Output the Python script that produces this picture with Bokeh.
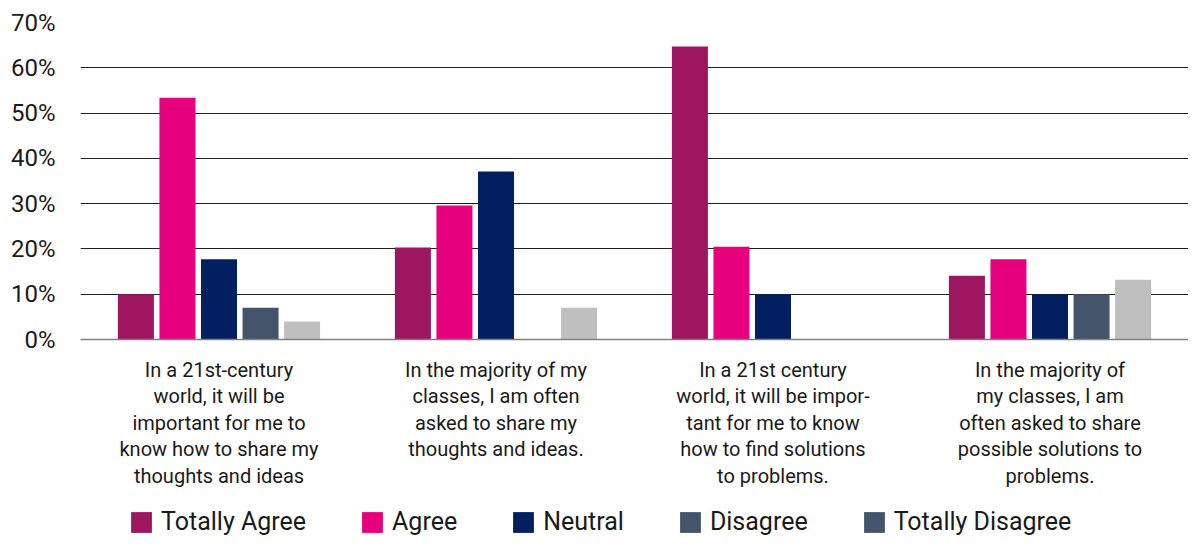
from bokeh.plotting import figure
from bokeh.layouts import column
from bokeh.models import (ColumnDataSource, FactorRange, Range1d, Legend, LegendItem,
                          PrintfTickFormatter, FixedTicker)
from bokeh.transform import dodge
from bokeh.embed import file_html
from bokeh.resources import INLINE

# ---------------- data ----------------
categories = [
    "In a 21st-century\nworld, it will be\nimportant for me to\nknow how to share my\nthoughts and ideas",
    "In the majority of my\nclasses, I am often\nasked to share my\nthoughts and ideas.",
    "In a 21st century\nworld, it will be impor-\ntant for me to know\nhow to find solutions\nto problems.",
    "In the majority of\nmy classes, I am\noften asked to share\npossible solutions to\nproblems.",
]
series_names = ["Totally Agree", "Agree", "Neutral", "Disagree", "Totally Disagree"]
totally_agree = [10.0, 20.3, 64.7, 14.1]
agree = [53.4, 29.6, 20.5, 17.7]
neutral = [17.7, 37.1, 10.0, 10.0]
disagree = [7.0, 0.0, 0.0, 10.0]
totally_disagree = [4.0, 7.0, 0.0, 13.2]
y_ticks = [0, 10, 20, 30, 40, 50, 60, 70]

# ---------------- styles ----------------
bar_colors = ["#9E1560", "#E6007E", "#022060", "#44546A", "#BFBFBF"]
legend_colors = ["#9E1560", "#E6007E", "#022060", "#44546A", "#44546A"]
FONT = "Roboto"
TEXT = "#1a1a1a"

source = ColumnDataSource(dict(
    cat=categories,
    ta=totally_agree, ag=agree, ne=neutral, di=disagree, td=totally_disagree,
))
cols = ["ta", "ag", "ne", "di", "td"]
offsets = [-0.30, -0.15, 0.0, 0.15, 0.30]

p = figure(width=1188, height=500, output_backend="svg", toolbar_location=None,
           x_range=FactorRange(*categories, range_padding=0),
           y_range=Range1d(0, 70))
p.min_border_left = 80
p.min_border_right = 0
p.min_border_top = 22
p.min_border_bottom = 161
p.outline_line_color = None
p.background_fill_color = "white"
p.border_fill_color = "white"

for col, off, color in zip(cols, offsets, bar_colors):
    p.vbar(x=dodge("cat", off, range=p.x_range), top=col, width=0.13,
           source=source, fill_color=color, line_color=None)

# axes
p.xgrid.grid_line_color = None
p.ygrid.grid_line_color = "#1f1f1f"
p.ygrid.grid_line_width = 1
p.ygrid.ticker = FixedTicker(ticks=y_ticks)

p.yaxis.ticker = FixedTicker(ticks=y_ticks)
p.yaxis.formatter = PrintfTickFormatter(format="%d%%")
p.yaxis.axis_line_color = None
p.yaxis.major_tick_line_color = None
p.yaxis.minor_tick_line_color = None
p.yaxis.major_tick_out = 0
p.yaxis.major_label_standoff = 25
p.yaxis.major_label_text_font = FONT
p.yaxis.major_label_text_font_size = "24px"
p.yaxis.major_label_text_color = TEXT

p.xaxis.axis_line_color = "#808080"
p.xaxis.axis_line_width = 1.5
p.xaxis.major_tick_line_color = None
p.xaxis.major_tick_out = 0
p.xaxis.major_label_standoff = 18
p.xaxis.major_label_text_font = FONT
p.xaxis.major_label_text_font_size = "20px"
p.xaxis.major_label_text_color = TEXT
p.xaxis.major_label_text_line_height = 1.11
p.xaxis.major_label_orientation = "horizontal"

# ---------------- legend strip ----------------
lg = figure(width=1188, height=36, output_backend="svg", toolbar_location=None,
            x_axis_location=None, y_axis_location=None,
            x_range=Range1d(0, 1), y_range=Range1d(0, 1))
lg.min_border = 0
lg.outline_line_color = None
lg.grid.grid_line_color = None

# legend swatches (the reference shows the last swatch in the Disagree colour);
# the swatch renderers lie below the strip's visible range
items = []
for name, color in zip(series_names, legend_colors):
    r = lg.vbar(x=[0.5], bottom=[-3], top=[-2], width=0.1,
                fill_color=color, line_color=None)
    items.append(LegendItem(label=name, renderers=[r]))

legend = Legend(items=items, orientation="horizontal", location=(48, 0))
legend.glyph_width = 26
legend.glyph_height = 26
legend.label_standoff = 7
legend.spacing = 53
legend.padding = 0
legend.margin = 0
legend.border_line_color = None
legend.background_fill_alpha = 0
legend.label_text_font = FONT
legend.label_text_font_size = "25px"
legend.label_text_color = TEXT
lg.add_layout(legend, "center")

layout = column(p, lg, spacing=0)
open("out.html", "w").write(file_html(layout, INLINE))
